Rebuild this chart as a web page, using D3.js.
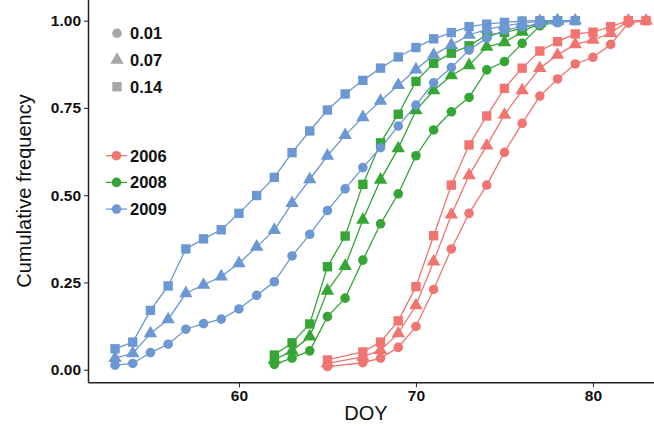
<!DOCTYPE html>
<html><head><meta charset="utf-8">
<script src="https://cdn.jsdelivr.net/npm/d3@7"></script>
<style>body{margin:0;background:#fff}svg{display:block}text{font-family:"Liberation Sans",Arial,Helvetica,sans-serif}</style>
</head><body><svg id="c" width="654" height="427"></svg>
<script>
const years = ["2006","2008","2009"];
const thresholds = ["0.01","0.07","0.14"];
const colors = ["#F07470","#35A535","#6B97D2"];
const xTicks = [60,70,80];
const yTicks = [0,0.25,0.5,0.75,1.0];

const days2006 = [65,67,68,69,70,71,72,73,74,75,76,77,78,79,80,81,82,83];
const r2006_001 = [0.009,0.020,0.033,0.064,0.124,0.230,0.346,0.448,0.529,0.623,0.706,0.784,0.833,0.876,0.895,0.932,0.993,1.0];
const r2006_007 = [0.018,0.037,0.056,0.104,0.184,0.310,0.444,0.557,0.642,0.730,0.800,0.864,0.902,0.932,0.945,0.964,1.0,1.0];
const r2006_014 = [0.028,0.051,0.079,0.140,0.238,0.384,0.529,0.644,0.727,0.806,0.864,0.913,0.940,0.962,0.967,0.983,1.0,1.0];

const days2008 = [62,63,64,65,66,67,68,69,70,71,72,73,74,75,76,77,78];
const g2008_001 = [0.015,0.033,0.054,0.152,0.205,0.314,0.418,0.504,0.613,0.687,0.739,0.780,0.859,0.883,0.935,0.985,0.997];
const g2008_007 = [0.028,0.054,0.095,0.226,0.297,0.429,0.544,0.634,0.743,0.800,0.843,0.872,0.925,0.938,0.968,0.993,1.0];
const g2008_014 = [0.042,0.077,0.131,0.295,0.383,0.531,0.650,0.732,0.826,0.878,0.907,0.928,0.959,0.966,0.978,0.994,1.0];

const days2009 = [53,54,55,56,57,58,59,60,61,62,63,64,65,66,67,68,69,70,71,72,73,74,75,76,77,78,79];
const b2009_001 = [0.013,0.018,0.049,0.073,0.116,0.132,0.145,0.174,0.213,0.252,0.326,0.388,0.456,0.518,0.579,0.636,0.698,0.758,0.822,0.866,0.916,0.950,0.973,0.983,0.990,0.994,1.0];
const b2009_007 = [0.033,0.047,0.104,0.144,0.219,0.243,0.267,0.305,0.352,0.400,0.477,0.545,0.613,0.672,0.723,0.770,0.815,0.860,0.902,0.930,0.959,0.975,0.985,0.993,0.998,1.0,1.0];
const b2009_014 = [0.060,0.079,0.170,0.240,0.346,0.375,0.401,0.448,0.499,0.551,0.622,0.684,0.744,0.790,0.829,0.864,0.896,0.923,0.948,0.966,0.983,0.990,0.995,0.999,1.0,1.0,1.0];

const series = [
  {year:"2006", days:days2006, vals:[r2006_001,r2006_007,r2006_014]},
  {year:"2008", days:days2008, vals:[g2008_001,g2008_007,g2008_014]},
  {year:"2009", days:days2009, vals:[b2009_001,b2009_007,b2009_014]}
];

const svg = d3.select("#c");
const x = d3.scaleLinear().domain([51.5,84.5]).range([88.5,672.6]);
const y = d3.scaleLinear().domain([-0.0372,1.0492]).range([382.7,3.5]);
const col = d3.scaleOrdinal().domain(years).range(colors);
const shp = d3.scaleOrdinal().domain(thresholds).range([d3.symbolCircle,d3.symbolTriangle,d3.symbolSquare]);
const sizes = {"0.01":72,"0.07":78,"0.14":88};

const line = d3.line().x(d=>x(d[0])).y(d=>y(d[1]));
const gLines = svg.append("g");
const gPts = svg.append("g");
series.forEach(s=>{
  s.vals.forEach((arr,i)=>{
    const pts = s.days.map((d,j)=>[d,arr[j]]);
    gLines.append("path").datum(pts).attr("d",line).attr("fill","none")
      .attr("stroke",col(s.year)).attr("stroke-width",1.3);
  });
});
series.forEach(s=>{
  s.vals.forEach((arr,i)=>{
    const th = thresholds[i];
    const pts = s.days.map((d,j)=>[d,arr[j]]);
    gPts.selectAll(null).data(pts).enter().append("path")
      .attr("d",d3.symbol().type(shp(th)).size(sizes[th]))
      .attr("transform",d=>`translate(${x(d[0])},${y(d[1])})`)
      .attr("fill",col(s.year));
  });
});

// axes
const xAxis = svg.append("g").attr("transform","translate(0,382.7)")
  .call(d3.axisBottom(x).tickValues(xTicks).tickSize(4.5).tickPadding(3).tickFormat(d3.format("d")));
const yAxis = svg.append("g").attr("transform","translate(88.5,0)")
  .call(d3.axisLeft(y).tickValues(yTicks).tickSize(4.5).tickPadding(3).tickFormat(d3.format(".2f")));
[xAxis,yAxis].forEach(a=>{
  a.select(".domain").remove();
  a.selectAll(".tick line").attr("stroke","#333").attr("stroke-width",1.1);
  a.selectAll(".tick text").attr("font-size",15.5).attr("font-weight","bold").attr("fill","#111")
    .style("font-family","'Liberation Sans',Arial,sans-serif");
});
svg.append("line").attr("x1",88.5).attr("x2",654).attr("y1",382.7).attr("y2",382.7).attr("stroke","#222").attr("stroke-width",1.5);
svg.append("line").attr("x1",88.5).attr("x2",88.5).attr("y1",0).attr("y2",382.7).attr("stroke","#222").attr("stroke-width",1.5);

svg.append("text").attr("x",366).attr("y",420).attr("text-anchor","middle").attr("font-size",20).attr("fill","#111").text("DOY");
svg.append("text").attr("transform","translate(31,191) rotate(-90)").attr("text-anchor","middle").attr("font-size",20).attr("fill","#111").text("Cumulative frequency");

// shape legend
const lg1 = svg.append("g");
thresholds.forEach((t,i)=>{
  const yy = 33.3 + i*26.7;
  lg1.append("path").attr("d",d3.symbol().type(shp(t)).size(sizes[t])).attr("transform",`translate(117,${yy})`).attr("fill","#A8A6A6");
  lg1.append("text").attr("x",130).attr("y",yy+6).attr("font-size",16.5).attr("font-weight","bold").attr("fill","#111").text(t);
});
// color legend
const lg2 = svg.append("g");
years.forEach((yr,i)=>{
  const yy = 155.7 + i*26.7;
  lg2.append("line").attr("x1",106).attr("x2",127).attr("y1",yy).attr("y2",yy).attr("stroke",col(yr)).attr("stroke-width",1.3);
  lg2.append("circle").attr("cx",116.5).attr("cy",yy).attr("r",4.8).attr("fill",col(yr));
  lg2.append("text").attr("x",130).attr("y",yy+6).attr("font-size",16.5).attr("font-weight","bold").attr("fill","#111").text(yr);
});
</script></body></html>
